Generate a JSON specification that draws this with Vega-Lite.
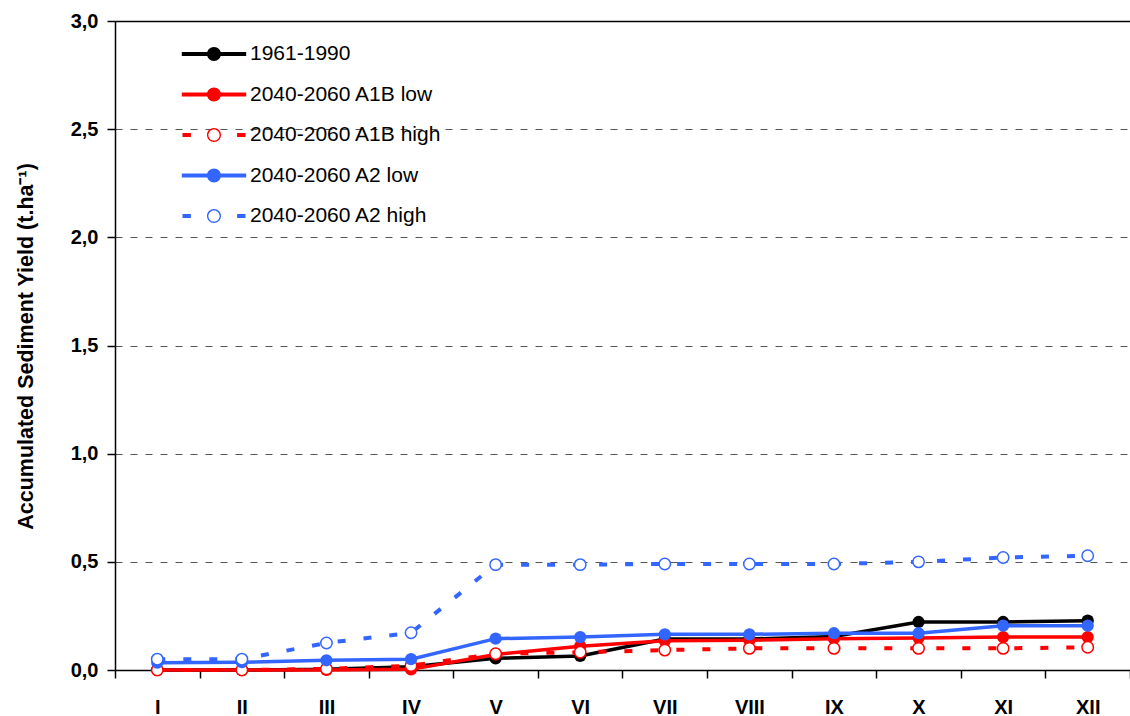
{
  "$schema": "https://vega.github.io/schema/vega-lite/v6.json",
  "width": 1015,
  "height": 649,
  "autosize": {"type": "none"},
  "padding": {"left": 115, "top": 21, "right": 0, "bottom": 46},
  "config": {
    "font": "Liberation Sans",
    "view": {"stroke": null},
    "axis": {"domainColor": "black", "domainWidth": 1.5, "tickColor": "black", "tickWidth": 1.5, "tickSize": 8, "labelColor": "black", "titleColor": "black"}
  },
  "data": {
    "values": [
      {"month": "I", "series": "1961-1990", "value": 0},
      {"month": "II", "series": "1961-1990", "value": 0},
      {"month": "III", "series": "1961-1990", "value": 0.003},
      {"month": "IV", "series": "1961-1990", "value": 0.015},
      {"month": "V", "series": "1961-1990", "value": 0.054},
      {"month": "VI", "series": "1961-1990", "value": 0.065},
      {"month": "VII", "series": "1961-1990", "value": 0.143},
      {"month": "VIII", "series": "1961-1990", "value": 0.143},
      {"month": "IX", "series": "1961-1990", "value": 0.155},
      {"month": "X", "series": "1961-1990", "value": 0.222},
      {"month": "XI", "series": "1961-1990", "value": 0.222},
      {"month": "XII", "series": "1961-1990", "value": 0.228},
      {"month": "I", "series": "2040-2060 A1B low", "value": 0},
      {"month": "II", "series": "2040-2060 A1B low", "value": 0},
      {"month": "III", "series": "2040-2060 A1B low", "value": 0},
      {"month": "IV", "series": "2040-2060 A1B low", "value": 0.003},
      {"month": "V", "series": "2040-2060 A1B low", "value": 0.072},
      {"month": "VI", "series": "2040-2060 A1B low", "value": 0.11},
      {"month": "VII", "series": "2040-2060 A1B low", "value": 0.135},
      {"month": "VIII", "series": "2040-2060 A1B low", "value": 0.138},
      {"month": "IX", "series": "2040-2060 A1B low", "value": 0.145},
      {"month": "X", "series": "2040-2060 A1B low", "value": 0.148},
      {"month": "XI", "series": "2040-2060 A1B low", "value": 0.152},
      {"month": "XII", "series": "2040-2060 A1B low", "value": 0.152},
      {"month": "I", "series": "2040-2060 A1B high", "value": 0},
      {"month": "II", "series": "2040-2060 A1B high", "value": 0},
      {"month": "III", "series": "2040-2060 A1B high", "value": 0.005},
      {"month": "IV", "series": "2040-2060 A1B high", "value": 0.02},
      {"month": "V", "series": "2040-2060 A1B high", "value": 0.075},
      {"month": "VI", "series": "2040-2060 A1B high", "value": 0.082},
      {"month": "VII", "series": "2040-2060 A1B high", "value": 0.092},
      {"month": "VIII", "series": "2040-2060 A1B high", "value": 0.1},
      {"month": "IX", "series": "2040-2060 A1B high", "value": 0.1},
      {"month": "X", "series": "2040-2060 A1B high", "value": 0.1},
      {"month": "XI", "series": "2040-2060 A1B high", "value": 0.1},
      {"month": "XII", "series": "2040-2060 A1B high", "value": 0.105},
      {"month": "I", "series": "2040-2060 A2 low", "value": 0.034},
      {"month": "II", "series": "2040-2060 A2 low", "value": 0.036},
      {"month": "III", "series": "2040-2060 A2 low", "value": 0.045},
      {"month": "IV", "series": "2040-2060 A2 low", "value": 0.05},
      {"month": "V", "series": "2040-2060 A2 low", "value": 0.145},
      {"month": "VI", "series": "2040-2060 A2 low", "value": 0.152},
      {"month": "VII", "series": "2040-2060 A2 low", "value": 0.165},
      {"month": "VIII", "series": "2040-2060 A2 low", "value": 0.165},
      {"month": "IX", "series": "2040-2060 A2 low", "value": 0.17},
      {"month": "X", "series": "2040-2060 A2 low", "value": 0.17},
      {"month": "XI", "series": "2040-2060 A2 low", "value": 0.205},
      {"month": "XII", "series": "2040-2060 A2 low", "value": 0.205},
      {"month": "I", "series": "2040-2060 A2 high", "value": 0.05},
      {"month": "II", "series": "2040-2060 A2 high", "value": 0.05},
      {"month": "III", "series": "2040-2060 A2 high", "value": 0.125},
      {"month": "IV", "series": "2040-2060 A2 high", "value": 0.172},
      {"month": "V", "series": "2040-2060 A2 high", "value": 0.487},
      {"month": "VI", "series": "2040-2060 A2 high", "value": 0.487},
      {"month": "VII", "series": "2040-2060 A2 high", "value": 0.49},
      {"month": "VIII", "series": "2040-2060 A2 high", "value": 0.49},
      {"month": "IX", "series": "2040-2060 A2 high", "value": 0.49},
      {"month": "X", "series": "2040-2060 A2 high", "value": 0.5},
      {"month": "XI", "series": "2040-2060 A2 high", "value": 0.52},
      {"month": "XII", "series": "2040-2060 A2 high", "value": 0.528}
    ]
  },
  "encoding": {
    "x": {
      "field": "month", "type": "ordinal",
      "sort": ["I", "II", "III", "IV", "V", "VI", "VII", "VIII", "IX", "X", "XI", "XII"],
      "scale": {"type": "band", "paddingInner": 0, "paddingOuter": 0},
      "axis": {"title": null, "labelAngle": 0, "labelFontSize": 20, "labelFontWeight": "bold", "labelPadding": 19, "tickBand": "extent", "grid": false}
    },
    "y": {
      "field": "value", "type": "quantitative",
      "scale": {"domain": [0, 3], "nice": false},
      "axis": {
        "title": "Accumulated Sediment Yield (t.ha⁻¹)",
        "titleFontSize": 21.5, "titleFontWeight": "bold",
        "titleX": -89, "titleY": 325, "titleBaseline": "middle",
        "values": [0, 0.5, 1, 1.5, 2, 2.5, 3],
        "labelExpr": "replace(format(datum.value, '.1f'), '.', ',')",
        "labelFontSize": 20, "labelFontWeight": "bold", "labelPadding": 9,
        "grid": true,
        "gridColor": {"condition": {"test": "datum.value >= 3", "value": "black"}, "value": "#555555"},
        "gridDash": {"condition": {"test": "datum.value >= 3", "value": []}, "value": [7, 8]},
        "gridWidth": {"condition": {"test": "datum.value >= 3", "value": 1.5}, "value": 1},
        "gridOpacity": {"condition": {"test": "datum.value <= 0", "value": 0}, "value": 1}
      }
    }
  },
  "layer": [
    {
      "transform": [{"filter": "datum.series == '1961-1990'"}],
      "mark": {"type": "line", "strokeWidth": 3.5},
      "encoding": {
        "color": {
          "field": "series", "type": "nominal",
          "scale": {
            "domain": ["1961-1990", "2040-2060 A1B low", "2040-2060 A1B high", "2040-2060 A2 low", "2040-2060 A2 high"],
            "range": ["#000000", "#FF0000", "#FF0000", "#3366FF", "#3366FF"]
          },
          "legend": {
            "title": null, "orient": "none", "legendX": 85, "legendY": 19,
            "symbolSize": 784, "labelFontSize": 21, "labelColor": "black", "labelOffset": 22, "labelLimit": 400,
            "rowPadding": 16.5, "padding": 0,
            "encode": {
              "symbols": {
                "update": {
                  "shape": {"signal": "indexof(datum.value, 'high') >= 0 ? 'M-2.25,-0.14H-1.65V0.14H-2.25Z M1.65,-0.14H2.25V0.14H1.65Z M0.5,0A0.5,0.5 0 1 1 -0.5,0A0.5,0.5 0 1 1 0.5,0Z M0.4,0A0.4,0.4 0 1 0 -0.4,0A0.4,0.4 0 1 0 0.4,0Z' : 'M-2.3,-0.14H2.3V0.14H-2.3Z M0.5,0A0.5,0.5 0 1 1 -0.5,0A0.5,0.5 0 1 1 0.5,0Z'"},
                  "fill": {"scale": "color", "field": "value"},
                  "stroke": {"value": "transparent"},
                  "strokeWidth": {"value": 0},
                  "opacity": {"value": 1}
                }
              }
            }
          }
        }
      }
    },
    {
      "transform": [{"filter": "datum.series == '1961-1990'"}],
      "mark": {"type": "point", "shape": "circle", "filled": true, "color": "#000000", "size": 150, "opacity": 1}
    },
    {
      "transform": [{"filter": "datum.series == '2040-2060 A1B low'"}],
      "mark": {"type": "line", "strokeWidth": 3.5, "color": "#FF0000"}
    },
    {
      "transform": [{"filter": "datum.series == '2040-2060 A1B low'"}],
      "mark": {"type": "point", "shape": "circle", "filled": true, "color": "#FF0000", "size": 150, "opacity": 1}
    },
    {
      "transform": [{"filter": "datum.series == '2040-2060 A1B high'"}],
      "mark": {"type": "line", "strokeWidth": 4, "color": "#FF0000", "strokeDash": [8, 18]}
    },
    {
      "transform": [{"filter": "datum.series == '2040-2060 A1B high'"}],
      "mark": {"type": "point", "shape": "circle", "filled": true, "fill": "white", "stroke": "#FF0000", "strokeWidth": 1.5, "size": 130, "opacity": 1}
    },
    {
      "transform": [{"filter": "datum.series == '2040-2060 A2 low'"}],
      "mark": {"type": "line", "strokeWidth": 3.5, "color": "#3366FF"}
    },
    {
      "transform": [{"filter": "datum.series == '2040-2060 A2 low'"}],
      "mark": {"type": "point", "shape": "circle", "filled": true, "color": "#3366FF", "size": 150, "opacity": 1}
    },
    {
      "transform": [{"filter": "datum.series == '2040-2060 A2 high'"}],
      "mark": {"type": "line", "strokeWidth": 4, "color": "#3366FF", "strokeDash": [8, 18]}
    },
    {
      "transform": [{"filter": "datum.series == '2040-2060 A2 high'"}],
      "mark": {"type": "point", "shape": "circle", "filled": true, "fill": "white", "stroke": "#3366FF", "strokeWidth": 1.5, "size": 130, "opacity": 1}
    }
  ]
}
